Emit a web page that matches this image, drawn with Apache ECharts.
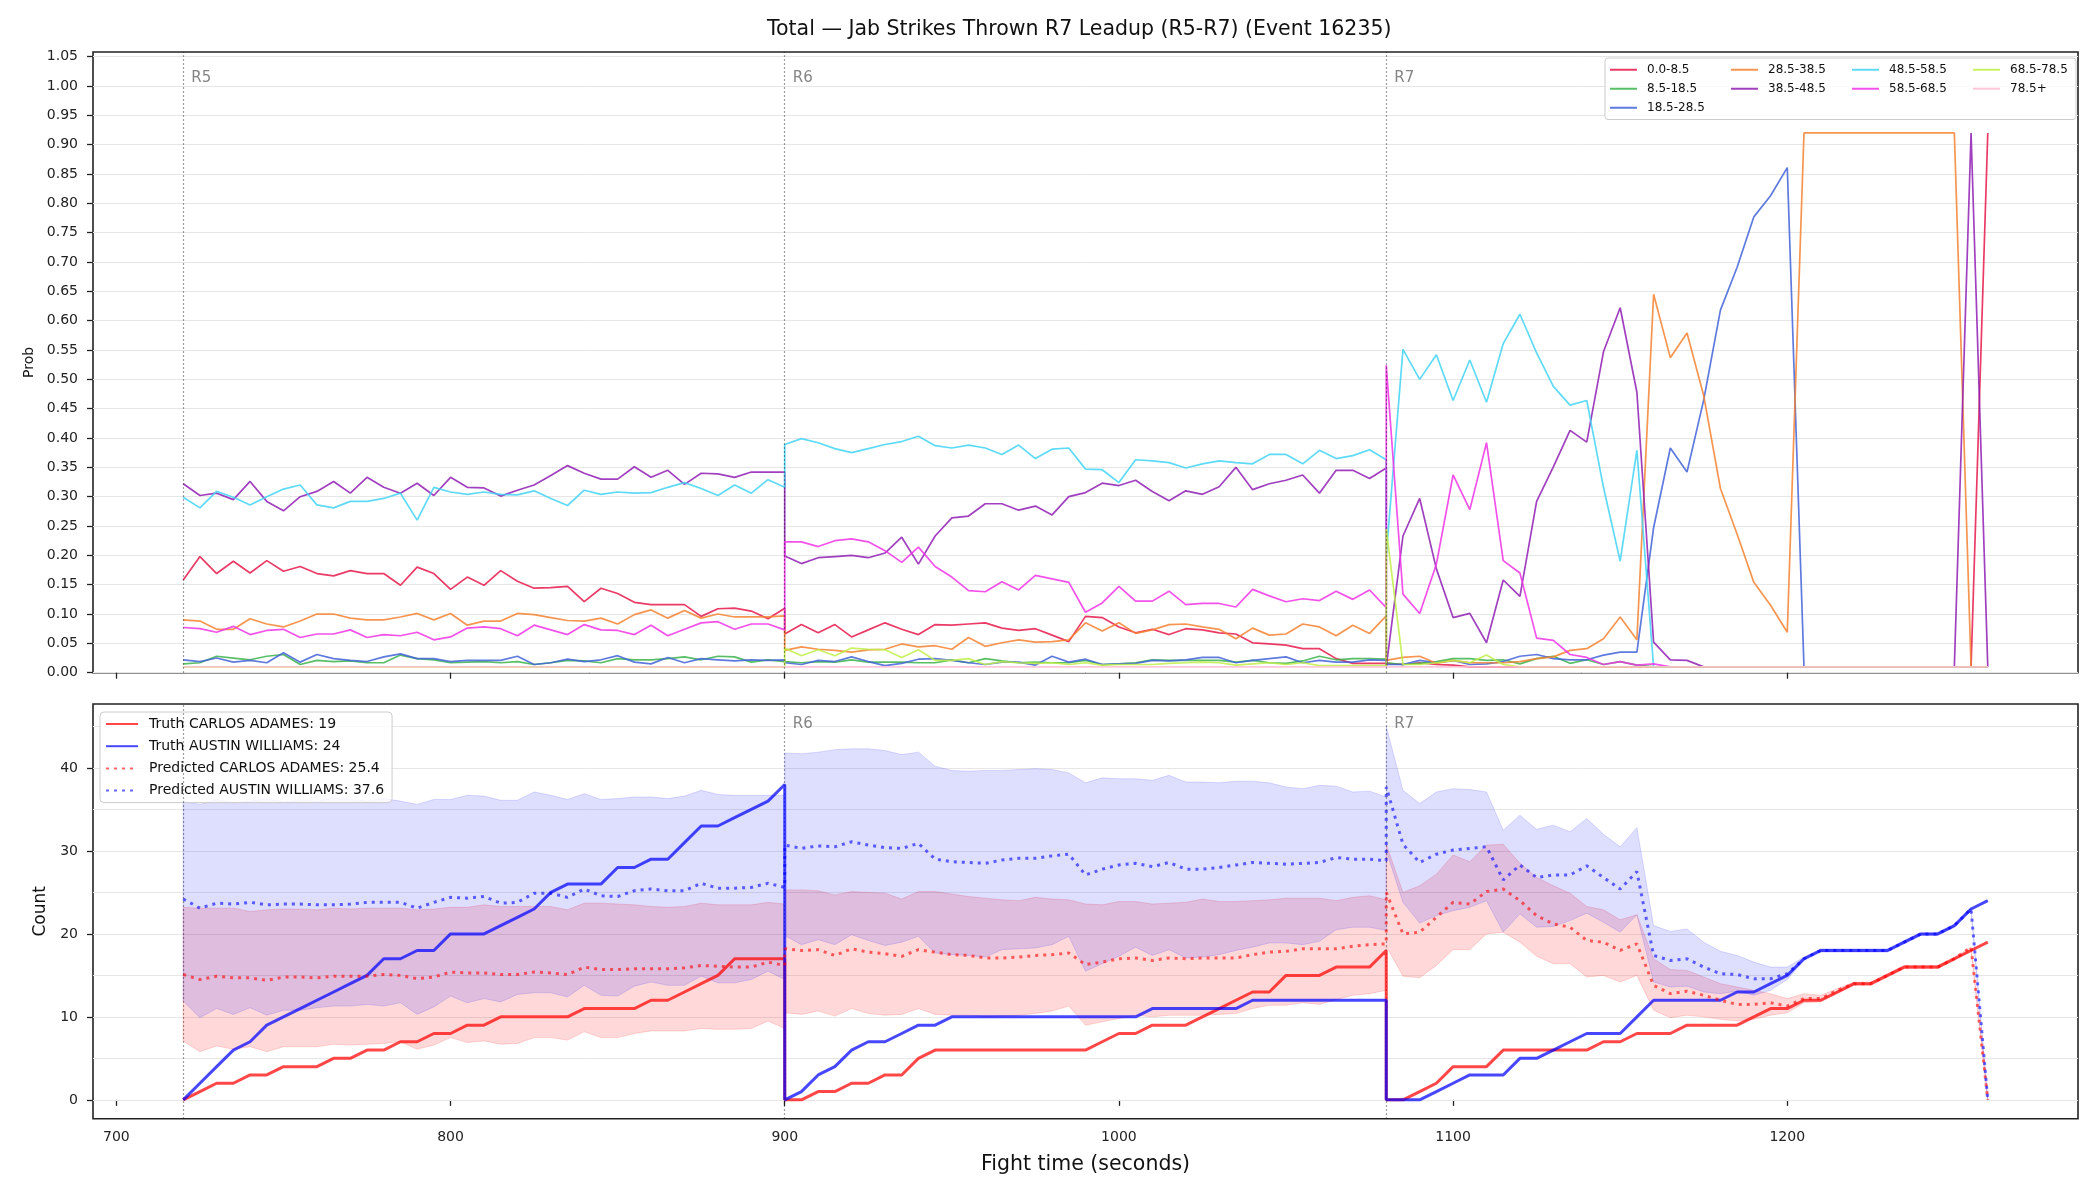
<!DOCTYPE html>
<html>
<head>
<meta charset="utf-8"/>
<script src="https://cdn.jsdelivr.net/npm/echarts@6/dist/echarts.min.js"></script>
<style>
    html, body { margin: 0; padding: 0; background: #fff; }
    #container { width: 2100px; height: 1200px; }
</style>
</head>
<body>
<div id="container"></div>
<script type="text/javascript">
    var FONT = 'DejaVu Sans';

    // time grid: each round sampled every 5 s from its start
    var roundStarts = [720, 900, 1080];
    var roundLabels = ['R5', 'R6', 'R7'];
    var stepSec = 5, perRound = 37;
    var t = [];
    roundStarts.forEach(function (s) {
        for (var k = 0; k < perRound; k++) t.push(s + k * stepSec);
    });

    var timeTicks = [700, 800, 900, 1000, 1100, 1200];
    var probTicks = [0, 0.05, 0.1, 0.15, 0.2, 0.25, 0.3, 0.35, 0.4, 0.45, 0.5, 0.55, 0.6, 0.65, 0.7, 0.75, 0.8, 0.85, 0.9, 0.95, 1.0, 1.05];
    var countTicks = [0, 10, 20, 30, 40];
    var countGrid = [0, 5, 10, 15, 20, 25, 30, 35, 40, 45];

    var binLabels = ['0.0-8.5', '8.5-18.5', '18.5-28.5', '28.5-38.5', '38.5-48.5', '48.5-58.5', '58.5-68.5', '68.5-78.5', '78.5+'];
    var binColors = ['#e6194b', '#3cb44b', '#4363d8', '#f58231', '#911eb4', '#42d4f4', '#f032e6', '#bfef45', '#fabed4'];

    var p0 = [
        .158,.198,.169,.190,.170,.191,.173,.181,.169,.165,.174,.169,.169,.149,.180,.169,.142,.163,.149,.174,.156,.144,.145,.147,.121,.144,.135,.120,.116,.116,.116,.096,.109,.110,.105,.092,.110,
        .066,.082,.068,.082,.061,.073,.085,.074,.065,.082,.081,.083,.085,.076,.072,.075,.064,.053,.096,.094,.078,.068,.074,.065,.075,.073,.068,.066,.051,.049,.047,.041,.041,.024,.016,.016,.016,
        .014,.014,.017,.014,.013,.01,.01,.01,.01,.01,.01,.01,.01,.01,.01,.01,.01,.01,.01,.01,.01,.01,.01,.01,.01,.01,.01,.01,.01,.01,.01,.01,.01,.01,.01,.01,.92
    ];
    var p1 = [
        .015,.017,.028,.025,.022,.028,.031,.014,.021,.019,.020,.017,.017,.030,.024,.022,.017,.018,.019,.017,.019,.014,.017,.021,.020,.017,.024,.022,.022,.024,.027,.022,.028,.027,.018,.022,.019,
        .019,.017,.019,.018,.022,.018,.018,.018,.017,.017,.022,.017,.024,.020,.017,.018,.017,.017,.021,.014,.015,.017,.022,.021,.021,.021,.021,.018,.021,.017,.016,.020,.028,.022,.024,.024,.023,
        .017,.014,.016,.019,.024,.024,.021,.022,.015,.024,.028,.016,.022,.014,.019,.013,.01,.01,.01,.01,.01,.01,.01,.01,.01,.01,.01,.01,.01,.01,.01,.01,.01,.01,.01,.01,.01
    ];
    var p2 = [
        .022,.019,.025,.018,.021,.017,.034,.018,.031,.024,.021,.019,.027,.032,.024,.024,.019,.021,.021,.021,.028,.014,.017,.023,.019,.022,.029,.018,.015,.026,.017,.024,.022,.020,.022,.021,.022,
        .017,.014,.021,.019,.027,.019,.012,.016,.023,.024,.021,.017,.014,.018,.018,.013,.028,.018,.023,.014,.015,.016,.021,.020,.022,.026,.026,.017,.021,.024,.027,.017,.021,.018,.018,.022,.021,
        .014,.014,.021,.017,.021,.014,.015,.019,.028,.031,.024,.022,.022,.030,.035,.035,.247,.383,.342,.465,.618,.691,.777,.813,.861,.01,.01,.01,.01,.01,.01,.01,.01,.01,.01,.01,.01
    ];
    var p3 = [
        .090,.088,.074,.074,.092,.083,.078,.088,.100,.100,.093,.090,.090,.095,.101,.090,.101,.081,.088,.088,.101,.099,.094,.089,.088,.093,.083,.099,.107,.093,.106,.093,.100,.095,.095,.095,.097,
        .038,.044,.040,.038,.035,.039,.040,.049,.044,.046,.040,.060,.045,.051,.056,.052,.053,.056,.085,.071,.085,.067,.073,.082,.083,.078,.074,.058,.076,.064,.066,.083,.078,.063,.081,.067,.097,
        .021,.026,.028,.016,.021,.017,.017,.017,.019,.024,.027,.038,.041,.058,.095,.056,.645,.537,.579,.472,.314,.236,.154,.115,.069,.92,.92,.92,.92,.92,.92,.92,.92,.92,.92,.01,.01
    ];
    var p4 = [
        .322,.302,.306,.295,.326,.292,.276,.300,.309,.326,.306,.333,.316,.306,.323,.302,.333,.316,.315,.301,.311,.320,.336,.353,.340,.330,.330,.351,.333,.345,.321,.340,.339,.333,.342,.342,.342,
        .199,.186,.196,.198,.200,.196,.204,.231,.185,.233,.264,.267,.288,.288,.277,.284,.269,.300,.307,.323,.319,.328,.309,.293,.310,.304,.317,.350,.312,.322,.328,.337,.306,.345,.345,.331,.349,
        .01,.233,.297,.177,.094,.101,.051,.158,.130,.292,.351,.413,.393,.547,.622,.478,.052,.022,.021,.01,.01,.01,.01,.01,.01,.01,.01,.01,.01,.01,.01,.01,.01,.01,.01,.92,.01
    ];
    var p5 = [
        .299,.281,.309,.299,.286,.300,.313,.320,.286,.281,.292,.292,.297,.306,.260,.316,.308,.304,.308,.304,.303,.310,.297,.285,.311,.304,.308,.306,.307,.316,.324,.314,.302,.320,.306,.329,.316,
        .389,.399,.392,.382,.375,.382,.389,.394,.403,.387,.383,.388,.383,.372,.388,.365,.381,.383,.347,.346,.324,.363,.361,.358,.349,.356,.361,.358,.356,.372,.372,.356,.379,.365,.370,.380,.363,
        .200,.551,.500,.542,.464,.533,.461,.561,.611,.545,.488,.456,.464,.316,.190,.379,.01,.01,.01,.01,.01,.01,.01,.01,.01,.01,.01,.01,.01,.01,.01,.01,.01,.01,.01,.01,.01
    ];
    var p6 = [
        .077,.075,.069,.079,.065,.072,.074,.060,.066,.066,.073,.060,.065,.063,.069,.056,.061,.076,.078,.075,.063,.081,.073,.065,.082,.073,.072,.065,.081,.063,.074,.085,.087,.074,.083,.083,.073,
        .223,.223,.215,.225,.228,.223,.208,.188,.214,.181,.163,.140,.138,.155,.141,.166,.160,.154,.103,.119,.147,.122,.122,.139,.116,.118,.118,.112,.142,.131,.121,.126,.123,.139,.125,.141,.111,
        .524,.134,.101,.185,.337,.278,.392,.191,.170,.059,.055,.031,.026,.014,.019,.013,.015,.01,.01,.01,.01,.01,.01,.01,.01,.01,.01,.01,.01,.01,.01,.01,.01,.01,.01,.01,.01
    ];
    var p7 = [
        .01,.01,.01,.01,.01,.01,.01,.01,.01,.01,.01,.01,.01,.01,.01,.01,.01,.01,.01,.01,.01,.01,.01,.01,.01,.01,.01,.01,.01,.01,.01,.01,.01,.01,.01,.01,.01,
        .042,.029,.039,.029,.042,.040,.039,.026,.039,.021,.021,.024,.014,.019,.017,.016,.017,.014,.017,.013,.014,.014,.014,.016,.017,.018,.017,.013,.015,.017,.014,.017,.012,.012,.012,.012,.012,
        .245,.014,.014,.017,.021,.017,.030,.014,.01,.01,.01,.01,.01,.01,.01,.01,.01,.01,.01,.01,.01,.01,.01,.01,.01,.01,.01,.01,.01,.01,.01,.01,.01,.01,.01,.01,.01
    ];
    var p8 = [
        .01,.01,.01,.01,.01,.01,.01,.01,.01,.01,.01,.01,.01,.01,.01,.01,.01,.01,.01,.01,.01,.01,.01,.01,.01,.01,.01,.01,.01,.01,.01,.01,.01,.01,.01,.01,.01,
        .01,.01,.01,.01,.01,.01,.01,.01,.01,.01,.01,.01,.01,.01,.01,.01,.01,.01,.01,.01,.01,.01,.01,.01,.01,.01,.01,.01,.01,.01,.01,.01,.01,.01,.01,.01,.01,
        .01,.01,.01,.01,.01,.01,.01,.01,.01,.01,.01,.01,.01,.01,.01,.01,.01,.01,.01,.01,.01,.01,.01,.01,.01,.01,.01,.01,.01,.01,.01,.01,.01,.01,.01,.01,.01
    ];
    var probs = [p0, p1, p2, p3, p4, p5, p6, p7, p8];

    var countNames = ['Truth CARLOS ADAMES: 19', 'Truth AUSTIN WILLIAMS: 24', 'Predicted CARLOS ADAMES: 25.4', 'Predicted AUSTIN WILLIAMS: 37.6'];

    var truthCarlos = [
        0,1,2,2,3,3,4,4,4,5,5,6,6,7,7,8,8,9,9,10,10,10,10,10,11,11,11,11,12,12,13,14,15,17,17,17,17,
        0,0,1,1,2,2,3,3,5,6,6,6,6,6,6,6,6,6,6,7,8,8,9,9,9,10,11,12,13,13,15,15,15,16,16,16,18,
        0,0,1,2,4,4,4,6,6,6,6,6,6,7,7,8,8,8,9,9,9,9,10,11,11,12,12,13,14,14,15,16,16,16,17,18,19
    ];
    var truthAustin = [
        0,2,4,6,7,9,10,11,12,13,14,15,17,17,18,18,20,20,20,21,22,23,25,26,26,26,28,28,29,29,31,33,33,34,35,36,38,
        0,1,3,4,6,7,7,8,9,9,10,10,10,10,10,10,10,10,10,10,10,10,11,11,11,11,11,11,12,12,12,12,12,12,12,12,12,
        0,0,0,1,2,3,3,3,5,5,6,7,8,8,8,10,12,12,12,12,12,13,13,14,15,17,18,18,18,18,18,19,20,20,21,23,24
    ];
    var predCarlos = [
        15.1,14.5,14.9,14.7,14.7,14.4,14.8,14.8,14.7,14.9,14.9,14.9,15.1,15.0,14.6,14.8,15.4,15.3,15.3,15.1,15.1,15.4,15.3,15.1,16.0,15.7,15.7,15.8,15.8,15.8,15.9,16.2,16.1,16.0,16.0,16.6,16.2,
        18.2,18.0,18.1,17.4,18.2,17.8,17.6,17.3,18.1,17.8,17.5,17.4,17.1,17.1,17.2,17.4,17.5,17.7,16.3,16.6,17.0,17.1,16.8,17.1,17.0,17.1,17.1,17.1,17.5,17.8,17.9,18.2,18.2,18.2,18.5,18.7,18.8,
        25.0,20.0,20.2,22.0,23.8,23.6,25.1,25.4,24.0,22.2,21.2,20.8,19.2,19.0,18.0,18.8,13.8,12.8,13.1,12.6,12.0,11.5,11.5,11.7,11.3,12.2,12.2,13.2,14.0,14.0,15.0,16.0,16.0,16.0,17.0,18.4,0
    ];
    var predAustin = [
        24.2,23.1,23.7,23.6,23.8,23.5,23.6,23.6,23.5,23.5,23.6,23.8,23.8,23.8,23.1,23.8,24.4,24.3,24.5,23.7,23.8,24.9,24.9,24.4,25.4,24.6,24.5,25.2,25.4,25.2,25.2,26.1,25.5,25.5,25.6,26.1,25.6,
        30.7,30.3,30.6,30.5,31.1,30.7,30.4,30.3,30.9,29.0,28.7,28.6,28.5,28.9,29.1,29.1,29.4,29.6,27.1,27.8,28.3,28.5,28.1,28.6,27.8,27.8,28.0,28.3,28.6,28.5,28.4,28.5,28.6,29.2,29.0,29.0,28.8,
        37.7,30.8,28.6,29.6,30.1,30.3,30.5,26.5,28.3,26.8,27.1,27.1,28.2,26.8,25.4,27.5,17.4,16.8,17.0,16.0,15.2,15.1,14.6,14.6,15.2,17.0,18.0,18.0,18.0,18.0,18.0,19.0,20.0,20.0,21.0,23.0,0
    ];
    var carlosHi = [
        23.2,23.1,23.1,23.1,22.7,22.9,23.0,23.0,22.9,23.1,23.0,23.1,23.1,23.1,22.9,23.0,23.2,23.2,23.5,23.3,23.3,23.3,23.3,22.9,23.7,23.7,23.6,23.5,23.3,23.2,23.3,23.7,23.5,23.5,23.5,23.8,23.6,
        25.3,25.3,25.2,24.7,25.1,25.0,24.9,24.2,25.1,25.1,24.8,24.5,24.3,24.1,24.0,24.4,24.2,24.1,23.6,23.5,23.9,23.9,23.6,23.7,23.8,24.2,23.9,23.9,24.0,24.1,24.3,24.3,24.3,24.0,24.4,24.6,24.1,
        30.8,25.0,25.8,27.2,29.5,28.7,30.7,30.8,28.5,26.8,25.8,24.9,23.3,22.9,21.7,22.3,17.0,15.7,15.6,14.8,14.0,13.6,13.2,12.8,12.2,12.8,12.6,13.4,14.2,14.2,15.2,16.2,16.2,16.2,17.2,18.4,0
    ];
    var carlosLo = [
        7.1,5.8,6.5,6.1,6.4,5.8,6.4,6.4,6.4,6.7,6.6,6.7,6.8,7.0,6.1,6.6,7.5,6.9,7.1,6.7,6.8,7.5,7.5,7.2,8.2,7.5,7.5,8.0,8.3,8.3,8.3,8.6,8.5,8.5,8.6,9.5,8.6,
        10.5,10.3,10.7,10.1,11.0,10.4,10.2,10.3,11.0,10.3,10.2,10.2,10.0,10.1,10.2,10.4,10.7,11.3,9.0,9.4,9.8,10.2,10.0,10.2,10.2,10.2,10.3,10.4,11.0,11.4,11.4,11.7,11.5,12.1,12.6,12.8,13.2,
        18.5,14.9,14.7,16.2,18.1,18.1,20.0,20.2,19.0,17.3,16.4,16.4,14.8,15.0,14.2,15.0,10.8,9.9,10.2,10.0,9.7,9.5,9.7,10.2,10.5,11.7,11.8,12.8,13.8,13.8,14.8,15.8,15.8,15.8,16.8,18.0,0
    ];
    var austinHi = [
        36.0,35.6,36.2,35.8,36.0,36.3,35.9,36.1,36.0,36.4,36.2,36.0,36.3,36.0,35.6,36.2,36.2,36.7,36.6,36.1,36.1,37.1,36.7,36.2,36.9,36.2,36.3,36.5,36.5,36.3,36.6,37.3,36.8,36.7,36.7,36.7,36.7,
        41.8,41.7,41.9,42.2,42.3,42.3,42.1,41.6,41.9,40.2,39.7,39.6,39.7,39.7,39.8,39.9,39.8,39.4,38.2,38.8,38.7,38.7,38.5,39.1,38.3,38.3,38.2,38.4,38.4,38.2,37.7,37.5,37.9,37.8,37.1,37.2,36.5,
        45.0,37.3,35.7,37.1,37.5,37.4,37.1,32.5,34.3,32.6,33.1,32.3,33.9,32.0,30.5,32.8,21.0,20.3,20.6,19.0,17.9,17.4,16.6,16.0,16.0,17.2,18.2,18.2,18.2,18.2,18.2,19.2,20.1,20.1,21.1,23.2,0
    ];
    var austinLo = [
        11.9,9.9,11.0,10.3,11.1,10.2,10.8,10.8,11.1,11.3,11.3,11.5,11.3,11.7,10.3,11.2,12.5,11.7,12.2,11.8,12.7,12.9,12.9,12.4,13.8,12.6,12.5,13.7,14.2,13.8,13.8,14.9,14.1,14.1,14.5,15.5,14.5,
        19.8,18.7,19.3,18.7,19.9,19.2,18.6,19.0,19.7,17.7,17.5,17.4,17.2,18.1,18.2,18.3,18.7,19.7,15.5,16.4,17.3,18.4,17.4,18.1,17.1,17.2,17.5,18.0,18.4,18.9,18.9,18.7,19.1,20.5,20.8,20.8,20.4,
        30.0,23.8,21.3,22.2,22.8,23.2,24.0,20.2,22.4,20.8,20.9,21.6,22.5,21.4,20.2,22.3,14.2,13.6,13.7,13.0,12.8,13.1,12.6,13.2,14.5,16.8,17.8,17.8,17.8,17.8,17.8,18.8,19.8,19.8,20.8,22.8,0
    ];

    [p0, p1, p2, p3, p4, p5, p6, p7, p8, truthCarlos, truthAustin, predCarlos, predAustin, carlosHi, carlosLo, austinHi, austinLo].forEach(function (a, i) {
        if (a.length !== t.length) throw new Error('array ' + i + ' has ' + a.length + ' values, expected ' + t.length);
    });

    var xMin = 693, xMax = 1287;
    var probMax = 1.058;
    var countMin = -2.27, countMax = 47.7;

    function pairs(ys) {
        return t.map(function (x, i) { return [x, ys[i]]; });
    }

    function bandSeries(hi, lo, fill) {
        return {
            type: 'custom', xAxisIndex: 1, yAxisIndex: 1, z: 2, silent: true,
            data: [[t[0], 0]],
            renderItem: function (params, api) {
                var pts = [];
                for (var i = 0; i < t.length; i++) pts.push(api.coord([t[i], hi[i]]));
                for (var j = t.length - 1; j >= 0; j--) pts.push(api.coord([t[j], lo[j]]));
                return { type: 'polygon', shape: { points: pts }, style: { fill: fill, stroke: fill, lineWidth: 1 } };
            }
        };
    }

    function roundLines(axisIdx) {
        return {
            type: 'line', xAxisIndex: axisIdx, yAxisIndex: axisIdx, data: [], silent: true,
            markLine: {
                silent: true, symbol: ['none', 'none'], z: 4, animation: false,
                label: { show: false },
                lineStyle: { type: [1.5, 2.5], color: 'rgba(0,0,0,0.5)', width: 1.2 },
                data: roundStarts.map(function (x) { return { xAxis: x }; })
            }
        };
    }

    function roundText(axisIdx, yTop, dy, from) {
        var labs = roundLabels.slice(from);
        return {
            type: 'scatter', xAxisIndex: axisIdx, yAxisIndex: axisIdx, symbolSize: 0, silent: true, z: 5,
            data: roundStarts.slice(from).map(function (x) { return [x, yTop]; }),
            label: {
                show: true, position: 'right', distance: 8, offset: [0, dy],
                color: '#666', fontSize: 15, fontFamily: FONT,
                formatter: function (p) { return labs[p.dataIndex]; }
            }
        };
    }

    var series = [];
    binLabels.forEach(function (name, i) {
        series.push({
            name: name, type: 'line', xAxisIndex: 0, yAxisIndex: 0, z: 3,
            data: pairs(probs[i]), symbol: 'none',
            lineStyle: { width: 1.7, color: binColors[i], opacity: 0.85 },
            itemStyle: { color: binColors[i] }
        });
    });
    series.push(roundLines(0));
    series.push(roundText(0, probMax, 26, 0));

    // horizontal grid of the count panel (every 5)
    series.push({
        type: 'line', xAxisIndex: 1, yAxisIndex: 1, data: [], silent: true,
        markLine: {
            silent: true, symbol: ['none', 'none'], z: 1, animation: false,
            label: { show: false },
            lineStyle: { type: 'solid', color: '#e6e6e6', width: 1 },
            data: countGrid.map(function (v) { return { yAxis: v }; })
        }
    });
    series.push(bandSeries(carlosHi, carlosLo, 'rgba(255,0,0,0.15)'));
    series.push(bandSeries(austinHi, austinLo, 'rgba(0,0,255,0.13)'));
    series.push(roundLines(1));
    series.push(roundText(1, countMax, 20, 1));

    var countData = [truthCarlos, truthAustin, predCarlos, predAustin];
    var countColors = ['rgba(255,0,0,0.72)', 'rgba(0,0,255,0.72)', 'rgba(255,0,0,0.6)', 'rgba(0,0,255,0.6)'];
    countNames.forEach(function (name, i) {
        series.push({
            name: name, type: 'line', xAxisIndex: 1, yAxisIndex: 1, z: 4,
            data: pairs(countData[i]), symbol: 'none',
            lineStyle: { width: 3, color: countColors[i], type: i < 2 ? 'solid' : [3, 5], cap: 'butt' },
            itemStyle: { color: countColors[i] }
        });
    });

    // matplotlib fills its 4-column legend column by column
    var legendCols = [[0, 1, 2], [3, 4], [5, 6], [7, 8]];
    var topLegend = [];
    for (var r = 0; r < 3; r++) {
        legendCols.forEach(function (col, c) {
            if (col[r] !== undefined) {
                topLegend.push({ name: binLabels[col[r]], textStyle: { width: c === 3 ? 62 : 77.5 } });
            }
        });
    }

    var axisLabelStyle = { color: '#222', fontSize: 14, fontFamily: FONT };
    var tickStyle = { color: '#222', width: 1.3 };

    var option = {
        animation: false,
        backgroundColor: '#fff',
        title: {
            text: 'Total \u2014 Jab Strikes Thrown R7 Leadup (R5-R7) (Event 16235)',
            left: 767, top: 19, padding: 0,
            textStyle: { fontSize: 20.5, fontWeight: 'normal', color: '#111', fontFamily: FONT }
        },
        grid: [
            { left: 93, top: 52, width: 1985, height: 620.7, show: true, borderColor: '#222', borderWidth: 1.6, backgroundColor: 'transparent' },
            { left: 93, top: 704, width: 1985, height: 414.7, show: true, borderColor: '#222', borderWidth: 1.6, backgroundColor: 'transparent' }
        ],
        legend: [
            {
                data: topLegend, selectedMode: false,
                left: 1605, top: 58, orient: 'horizontal', width: 470,
                itemWidth: 27, itemHeight: 10, itemGap: 5.5,
                itemStyle: { opacity: 0 },
                padding: [5, 4, 5, 4],
                borderColor: '#cccccc', borderWidth: 1, borderRadius: 3,
                backgroundColor: 'rgba(255,255,255,0.8)',
                textStyle: { fontSize: 12, fontFamily: FONT, color: '#111', lineHeight: 13.5, padding: [0, 0, 0, 5] }
            },
            {
                data: countNames, selectedMode: false,
                left: 100, top: 712, orient: 'vertical',
                itemWidth: 32, itemHeight: 14, itemGap: 6.2,
                itemStyle: { opacity: 0 },
                padding: [4, 8, 4, 5],
                borderColor: '#cccccc', borderWidth: 1, borderRadius: 4,
                backgroundColor: 'rgba(255,255,255,0.8)',
                textStyle: { fontSize: 14, fontFamily: FONT, color: '#111', lineHeight: 16, padding: [0, 0, 0, 6] }
            }
        ],
        xAxis: [
            {
                type: 'value', gridIndex: 0, min: xMin, max: xMax,
                axisLine: { show: false }, splitLine: { show: false },
                axisTick: { show: true, length: 6, lineStyle: tickStyle, customValues: timeTicks },
                axisLabel: { show: false, customValues: timeTicks }
            },
            {
                type: 'value', gridIndex: 1, min: xMin, max: xMax,
                axisLine: { show: false }, splitLine: { show: false },
                axisTick: { show: true, length: 6, lineStyle: tickStyle, customValues: timeTicks },
                axisLabel: Object.assign({
                    margin: 12, customValues: timeTicks,
                    formatter: function (v) { return String(v); }
                }, axisLabelStyle),
                name: 'Fight time (seconds)', nameLocation: 'middle', nameGap: 35,
                nameTextStyle: { fontSize: 20.5, color: '#111', fontFamily: FONT }
            }
        ],
        yAxis: [
            {
                type: 'value', gridIndex: 0, min: 0, max: probMax, interval: 0.05,
                axisLine: { show: false },
                splitLine: { show: true, lineStyle: { color: '#e6e6e6', width: 1 } },
                axisTick: { show: true, length: 6, lineStyle: tickStyle, customValues: probTicks },
                axisLabel: Object.assign({
                    margin: 15, customValues: probTicks,
                    formatter: function (v) { return v.toFixed(2); }
                }, axisLabelStyle),
                name: 'Prob', nameLocation: 'middle', nameGap: 56,
                nameTextStyle: { fontSize: 14, color: '#111', fontFamily: FONT }
            },
            {
                type: 'value', gridIndex: 1, min: countMin, max: countMax,
                axisLine: { show: false }, splitLine: { show: false },
                axisTick: { show: true, length: 6, lineStyle: tickStyle, customValues: countTicks },
                axisLabel: Object.assign({ margin: 15, customValues: countTicks }, axisLabelStyle),
                name: 'Count', nameLocation: 'middle', nameGap: 44,
                nameTextStyle: { fontSize: 17, color: '#111', fontFamily: FONT }
            }
        ],
        series: series
    };

    var myChart = echarts.init(document.getElementById('container'));
    myChart.setOption(option, true);
</script>
</body>
</html>
